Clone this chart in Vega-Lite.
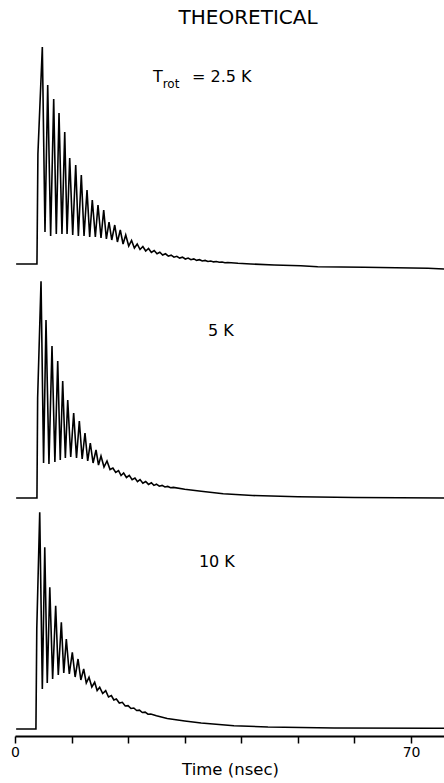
{
"$schema": "https://vega.github.io/schema/vega-lite/v6.json",
"padding": {"left": 10, "top": 7, "right": 0, "bottom": 0},
"background": "white",
"title": {"text": "THEORETICAL", "font": "DejaVu Sans", "fontSize": 20, "fontWeight": "normal", "color": "#000", "anchor": "start", "dx": 168, "offset": 16},
"data": {"values": [
{"panel":1,"kind":"main","t":24.4,"v":182,"label":"T"},
{"panel":1,"kind":"sub","t":26.1,"v":182,"label":"rot"},
{"panel":1,"kind":"main","t":31.3,"v":182,"label":"= 2.5 K"},
{"panel":2,"kind":"main","t":34.1,"v":162,"label":"5 K"},
{"panel":3,"kind":"main","t":32.5,"v":162,"label":"10 K"},
{"panel":1,"kind":"curve","t":0.2,"v":0},{"panel":1,"kind":"curve","t":3.88,"v":0},{"panel":1,"kind":"curve","t":4.05,"v":110},{"panel":1,"kind":"curve","t":4.83,"v":217},
{"panel":1,"kind":"curve","t":5.3,"v":32},{"panel":1,"kind":"curve","t":5.78,"v":179},{"panel":1,"kind":"curve","t":6.3,"v":28},{"panel":1,"kind":"curve","t":6.84,"v":165},
{"panel":1,"kind":"curve","t":7.3,"v":30},{"panel":1,"kind":"curve","t":7.78,"v":151},{"panel":1,"kind":"curve","t":8.3,"v":30},{"panel":1,"kind":"curve","t":8.79,"v":132},
{"panel":1,"kind":"curve","t":9.2,"v":30},{"panel":1,"kind":"curve","t":9.67,"v":106},{"panel":1,"kind":"curve","t":10.2,"v":29},{"panel":1,"kind":"curve","t":10.73,"v":99},
{"panel":1,"kind":"curve","t":11.2,"v":28},{"panel":1,"kind":"curve","t":11.72,"v":89},{"panel":1,"kind":"curve","t":12.2,"v":28},{"panel":1,"kind":"curve","t":12.73,"v":74},
{"panel":1,"kind":"curve","t":13.2,"v":27},{"panel":1,"kind":"curve","t":13.66,"v":64},{"panel":1,"kind":"curve","t":14.2,"v":27},{"panel":1,"kind":"curve","t":14.67,"v":59},
{"panel":1,"kind":"curve","t":15.2,"v":26},{"panel":1,"kind":"curve","t":15.68,"v":54},{"panel":1,"kind":"curve","t":16.15,"v":25},{"panel":1,"kind":"curve","t":16.62,"v":42},
{"panel":1,"kind":"curve","t":17.1,"v":24},{"panel":1,"kind":"curve","t":17.63,"v":39},{"panel":1,"kind":"curve","t":18.1,"v":22},{"panel":1,"kind":"curve","t":18.61,"v":34},
{"panel":1,"kind":"curve","t":19.1,"v":20},{"panel":1,"kind":"curve","t":19.57,"v":29},{"panel":1,"kind":"curve","t":20.1,"v":18},{"panel":1,"kind":"curve","t":20.6,"v":23.5},
{"panel":1,"kind":"curve","t":21.1,"v":16},{"panel":1,"kind":"curve","t":21.6,"v":20},{"panel":1,"kind":"curve","t":22.1,"v":14.5},{"panel":1,"kind":"curve","t":22.6,"v":17.5},
{"panel":1,"kind":"curve","t":23.1,"v":13},{"panel":1,"kind":"curve","t":23.6,"v":15.5},{"panel":1,"kind":"curve","t":24.1,"v":11.5},{"panel":1,"kind":"curve","t":24.6,"v":13.5},
{"panel":1,"kind":"curve","t":25.1,"v":10.2},{"panel":1,"kind":"curve","t":25.6,"v":11.8},{"panel":1,"kind":"curve","t":26.1,"v":9},{"panel":1,"kind":"curve","t":26.6,"v":10.2},
{"panel":1,"kind":"curve","t":27.1,"v":7.8},{"panel":1,"kind":"curve","t":27.6,"v":8.8},{"panel":1,"kind":"curve","t":28.1,"v":6.8},{"panel":1,"kind":"curve","t":28.6,"v":7.7},
{"panel":1,"kind":"curve","t":29.1,"v":5.9},{"panel":1,"kind":"curve","t":29.6,"v":6.8},{"panel":1,"kind":"curve","t":30.1,"v":5.0},{"panel":1,"kind":"curve","t":30.6,"v":5.9},
{"panel":1,"kind":"curve","t":31.1,"v":4.3},{"panel":1,"kind":"curve","t":31.6,"v":5.1},{"panel":1,"kind":"curve","t":32.1,"v":3.6},{"panel":1,"kind":"curve","t":32.6,"v":4.3},
{"panel":1,"kind":"curve","t":33.1,"v":3.0},{"panel":1,"kind":"curve","t":33.6,"v":3.6},{"panel":1,"kind":"curve","t":34.1,"v":2.5},{"panel":1,"kind":"curve","t":34.6,"v":3.0},
{"panel":1,"kind":"curve","t":35.1,"v":2.1},{"panel":1,"kind":"curve","t":35.6,"v":2.5},{"panel":1,"kind":"curve","t":36.1,"v":1.7},{"panel":1,"kind":"curve","t":36.6,"v":2.0},
{"panel":1,"kind":"curve","t":37.1,"v":1.3},{"panel":1,"kind":"curve","t":37.6,"v":1.5},{"panel":1,"kind":"curve","t":39.4,"v":0.7},
{"panel":1,"kind":"curve","t":41.7,"v":0},{"panel":1,"kind":"curve","t":45.8,"v":-1},{"panel":1,"kind":"curve","t":50.5,"v":-1.7},{"panel":1,"kind":"curve","t":53.5,"v":-2.7},
{"panel":1,"kind":"curve","t":61.7,"v":-3.3},{"panel":1,"kind":"curve","t":73,"v":-4.3},{"panel":1,"kind":"curve","t":76,"v":-5},
{"panel":2,"kind":"curve","t":0.2,"v":0},{"panel":2,"kind":"curve","t":3.88,"v":0},{"panel":2,"kind":"curve","t":4.0,"v":100},{"panel":2,"kind":"curve","t":4.6,"v":216.7},
{"panel":2,"kind":"curve","t":5.05,"v":35},{"panel":2,"kind":"curve","t":5.48,"v":178},{"panel":2,"kind":"curve","t":6.0,"v":34},{"panel":2,"kind":"curve","t":6.54,"v":152},
{"panel":2,"kind":"curve","t":7.05,"v":36},{"panel":2,"kind":"curve","t":7.55,"v":137},{"panel":2,"kind":"curve","t":8.0,"v":38},{"panel":2,"kind":"curve","t":8.43,"v":117},
{"panel":2,"kind":"curve","t":8.9,"v":40},{"panel":2,"kind":"curve","t":9.32,"v":98},{"panel":2,"kind":"curve","t":9.85,"v":41},{"panel":2,"kind":"curve","t":10.37,"v":85},
{"panel":2,"kind":"curve","t":10.87,"v":40},{"panel":2,"kind":"curve","t":11.37,"v":77},{"panel":2,"kind":"curve","t":11.87,"v":39},{"panel":2,"kind":"curve","t":12.37,"v":65},
{"panel":2,"kind":"curve","t":12.85,"v":37},{"panel":2,"kind":"curve","t":13.31,"v":55},{"panel":2,"kind":"curve","t":13.8,"v":35},{"panel":2,"kind":"curve","t":14.32,"v":48},
{"panel":2,"kind":"curve","t":14.76,"v":33},{"panel":2,"kind":"curve","t":15.2,"v":42},{"panel":2,"kind":"curve","t":15.73,"v":31},{"panel":2,"kind":"curve","t":16.26,"v":37},
{"panel":2,"kind":"curve","t":16.8,"v":28.5},{"panel":2,"kind":"curve","t":17.3,"v":30},{"panel":2,"kind":"curve","t":17.8,"v":25.5},{"panel":2,"kind":"curve","t":18.3,"v":27.4},
{"panel":2,"kind":"curve","t":18.75,"v":22.5},{"panel":2,"kind":"curve","t":19.2,"v":25},{"panel":2,"kind":"curve","t":19.7,"v":20.5},{"panel":2,"kind":"curve","t":20.2,"v":22.7},
{"panel":2,"kind":"curve","t":20.7,"v":18.3},{"panel":2,"kind":"curve","t":21.2,"v":20},{"panel":2,"kind":"curve","t":21.65,"v":16.3},{"panel":2,"kind":"curve","t":22.1,"v":18.4},
{"panel":2,"kind":"curve","t":22.6,"v":14.8},{"panel":2,"kind":"curve","t":23.1,"v":16.5},{"panel":2,"kind":"curve","t":23.6,"v":13.6},{"panel":2,"kind":"curve","t":24.1,"v":15.2},
{"panel":2,"kind":"curve","t":24.55,"v":12.6},{"panel":2,"kind":"curve","t":25.0,"v":13.8},{"panel":2,"kind":"curve","t":25.5,"v":11.8},{"panel":2,"kind":"curve","t":26.0,"v":12.6},
{"panel":2,"kind":"curve","t":26.5,"v":11},{"panel":2,"kind":"curve","t":27.0,"v":11.6},{"panel":2,"kind":"curve","t":27.5,"v":10.3},{"panel":2,"kind":"curve","t":28,"v":10.6},{"panel":2,"kind":"curve","t":30,"v":8.7},{"panel":2,"kind":"curve","t":32.9,"v":6.7},
{"panel":2,"kind":"curve","t":36.8,"v":4.2},{"panel":2,"kind":"curve","t":42,"v":2.5},{"panel":2,"kind":"curve","t":50,"v":1.2},{"panel":2,"kind":"curve","t":60,"v":0.5},{"panel":2,"kind":"curve","t":76,"v":0},
{"panel":3,"kind":"curve","t":0.2,"v":0},{"panel":3,"kind":"curve","t":3.7,"v":0},{"panel":3,"kind":"curve","t":3.85,"v":100},{"panel":3,"kind":"curve","t":4.37,"v":216.7},
{"panel":3,"kind":"curve","t":4.83,"v":40},{"panel":3,"kind":"curve","t":5.26,"v":181.7},{"panel":3,"kind":"curve","t":5.7,"v":46},{"panel":3,"kind":"curve","t":6.15,"v":141.7},
{"panel":3,"kind":"curve","t":6.65,"v":50},{"panel":3,"kind":"curve","t":7.19,"v":123.3},{"panel":3,"kind":"curve","t":7.65,"v":54},{"panel":3,"kind":"curve","t":8.19,"v":106.7},
{"panel":3,"kind":"curve","t":8.62,"v":56},{"panel":3,"kind":"curve","t":9.07,"v":90},{"panel":3,"kind":"curve","t":9.6,"v":55},{"panel":3,"kind":"curve","t":10.13,"v":76.7},
{"panel":3,"kind":"curve","t":10.63,"v":52},{"panel":3,"kind":"curve","t":11.14,"v":70},{"panel":3,"kind":"curve","t":11.64,"v":49},{"panel":3,"kind":"curve","t":12.14,"v":60},
{"panel":3,"kind":"curve","t":12.6,"v":46},{"panel":3,"kind":"curve","t":13.08,"v":51.7},{"panel":3,"kind":"curve","t":13.58,"v":42},{"panel":3,"kind":"curve","t":14.08,"v":46.7},
{"panel":3,"kind":"curve","t":14.52,"v":38.5},{"panel":3,"kind":"curve","t":14.97,"v":41.7},{"panel":3,"kind":"curve","t":15.5,"v":35.5},{"panel":3,"kind":"curve","t":16.03,"v":38.4},
{"panel":3,"kind":"curve","t":16.53,"v":32},{"panel":3,"kind":"curve","t":17.03,"v":33.4},{"panel":3,"kind":"curve","t":17.47,"v":29},{"panel":3,"kind":"curve","t":17.91,"v":30},
{"panel":3,"kind":"curve","t":18.44,"v":26},{"panel":3,"kind":"curve","t":18.97,"v":26.7},{"panel":3,"kind":"curve","t":19.48,"v":23},{"panel":3,"kind":"curve","t":19.98,"v":23.4},
{"panel":3,"kind":"curve","t":20.5,"v":20.5},{"panel":3,"kind":"curve","t":21.0,"v":21},{"panel":3,"kind":"curve","t":21.5,"v":18.5},{"panel":3,"kind":"curve","t":22.0,"v":18.8},
{"panel":3,"kind":"curve","t":22.5,"v":16.5},{"panel":3,"kind":"curve","t":23.0,"v":16.8},{"panel":3,"kind":"curve","t":23.5,"v":14.8},{"panel":3,"kind":"curve","t":24.0,"v":15},
{"panel":3,"kind":"curve","t":25,"v":13.2},{"panel":3,"kind":"curve","t":26.9,"v":10.5},{"panel":3,"kind":"curve","t":30,"v":8},{"panel":3,"kind":"curve","t":32.9,"v":6},
{"panel":3,"kind":"curve","t":38.7,"v":3.3},{"panel":3,"kind":"curve","t":44.7,"v":2},{"panel":3,"kind":"curve","t":56.4,"v":1},{"panel":3,"kind":"curve","t":74,"v":0.7},{"panel":3,"kind":"curve","t":76,"v":0.7}
]},
"spacing": 5,
"vconcat": [
{
  "width": 430, "height": 226,
  "transform": [{"filter": "datum.panel == 1"}],
  "encoding": {
    "x": {"field": "t", "type": "quantitative", "scale": {"domain": [0, 76], "nice": false, "zero": false}, "axis": null},
    "y": {"field": "v", "type": "quantitative", "scale": {"domain": [-6, 220], "nice": false, "zero": false}, "axis": null}
  },
  "layer": [
    {"transform": [{"filter": "datum.kind == 'curve'"}], "mark": {"type": "line", "color": "#000", "strokeWidth": 1.6}},
    {"transform": [{"filter": "datum.kind == 'main'"}], "mark": {"type": "text", "font": "DejaVu Sans", "fontSize": 16, "color": "#000", "align": "left", "baseline": "alphabetic"}, "encoding": {"text": {"field": "label"}}},
    {"transform": [{"filter": "datum.kind == 'sub'"}], "mark": {"type": "text", "font": "DejaVu Sans", "fontSize": 12, "color": "#000", "align": "left", "baseline": "alphabetic", "dy": 6}, "encoding": {"text": {"field": "label"}}}
  ]
},
{
  "width": 430, "height": 226,
  "transform": [{"filter": "datum.panel == 2"}],
  "encoding": {
    "x": {"field": "t", "type": "quantitative", "scale": {"domain": [0, 76], "nice": false, "zero": false}, "axis": null},
    "y": {"field": "v", "type": "quantitative", "scale": {"domain": [-6, 220], "nice": false, "zero": false}, "axis": null}
  },
  "layer": [
    {"transform": [{"filter": "datum.kind == 'curve'"}], "mark": {"type": "line", "color": "#000", "strokeWidth": 1.6}},
    {"transform": [{"filter": "datum.kind == 'main'"}], "mark": {"type": "text", "font": "DejaVu Sans", "fontSize": 16, "color": "#000", "align": "left", "baseline": "alphabetic"}, "encoding": {"text": {"field": "label"}}}
  ]
},
{
  "width": 430, "height": 226,
  "transform": [{"filter": "datum.panel == 3"}],
  "encoding": {
    "x": {"field": "t", "type": "quantitative", "scale": {"domain": [0, 76], "nice": false, "zero": false},
      "axis": {"values": [0,10,20,30,40,50,60,70], "labelExpr": "datum.value == 0 || datum.value == 70 ? datum.label : ''",
        "title": "Time (nsec)", "grid": false, "domainColor": "#000", "domainWidth": 2, "tickColor": "#000", "tickWidth": 1.5, "tickSize": 7,
        "labelFont": "DejaVu Sans", "labelFontSize": 14, "labelColor": "#000", "labelPadding": 2, "labelFlush": false, "labelOverlap": false,
        "titleFont": "DejaVu Sans", "titleFontSize": 16.5, "titleFontWeight": "normal", "titleColor": "#000", "titlePadding": 2, "offset": 1}},
    "y": {"field": "v", "type": "quantitative", "scale": {"domain": [-6, 220], "nice": false, "zero": false}, "axis": null}
  },
  "layer": [
    {"transform": [{"filter": "datum.kind == 'curve'"}], "mark": {"type": "line", "color": "#000", "strokeWidth": 1.6}},
    {"transform": [{"filter": "datum.kind == 'main'"}], "mark": {"type": "text", "font": "DejaVu Sans", "fontSize": 16, "color": "#000", "align": "left", "baseline": "alphabetic"}, "encoding": {"text": {"field": "label"}}}
  ]
}
],
"config": {"view": {"stroke": null}}
}
